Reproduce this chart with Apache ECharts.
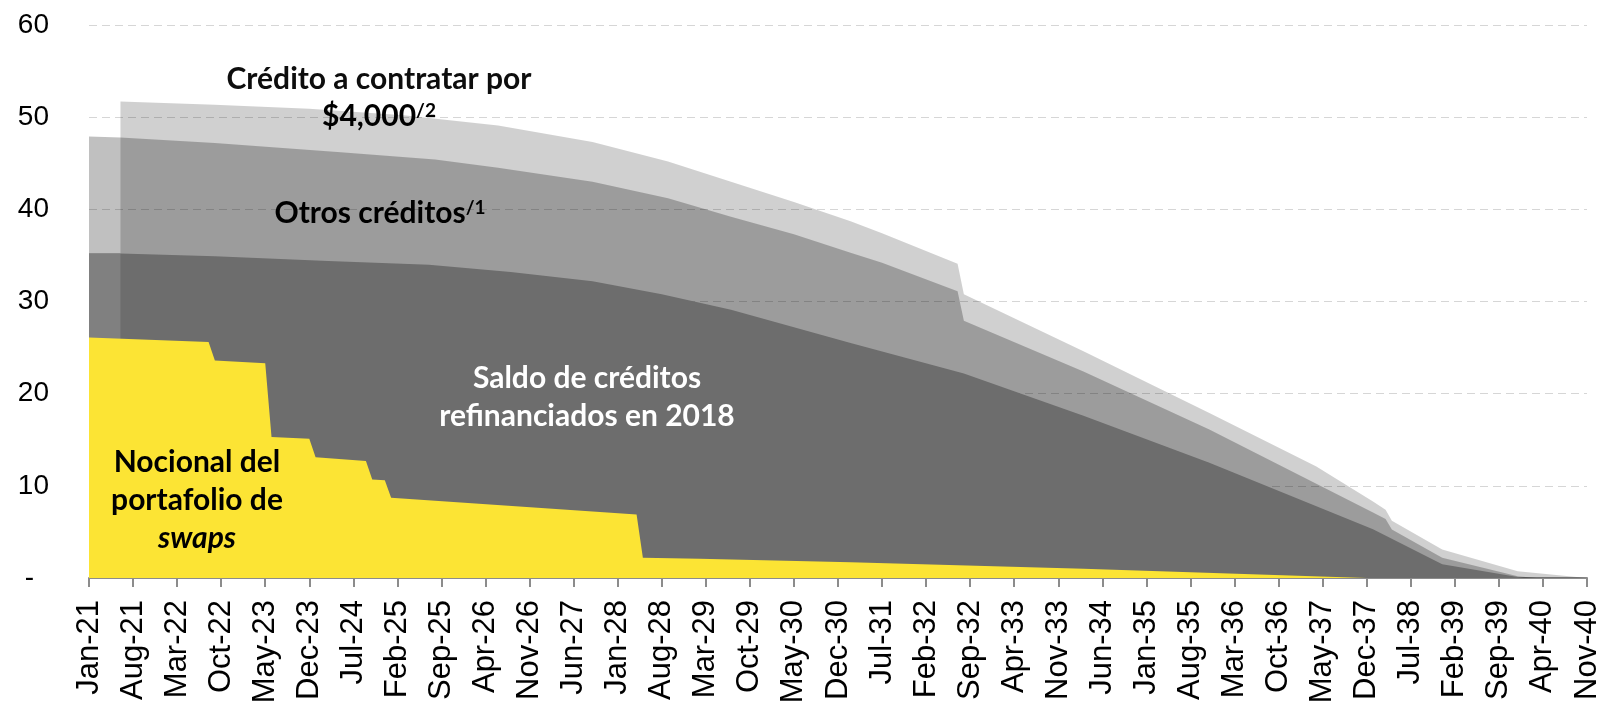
<!DOCTYPE html>
<html>
<head>
<meta charset="UTF-8">
<title>Saldo de créditos</title>
<script src="https://cdn.jsdelivr.net/npm/echarts@6/dist/echarts.min.js"></script>
<style>
html, body { margin: 0; padding: 0; background: #fff; }
#container { width: 1600px; height: 702px; }
</style>
</head>
<body>
<div id="container"></div>
<script type="text/javascript">
// etiquetas del eje x, una cada 7 meses a partir de ene-21
var tickLabels = ['Jan-21', 'Aug-21', 'Mar-22', 'Oct-22', 'May-23', 'Dec-23', 'Jul-24', 'Feb-25',
	'Sep-25', 'Apr-26', 'Nov-26', 'Jun-27', 'Jan-28', 'Aug-28', 'Mar-29', 'Oct-29', 'May-30',
	'Dec-30', 'Jul-31', 'Feb-32', 'Sep-32', 'Apr-33', 'Nov-33', 'Jun-34', 'Jan-35', 'Aug-35',
	'Mar-36', 'Oct-36', 'May-37', 'Dec-37', 'Jul-38', 'Feb-39', 'Sep-39', 'Apr-40', 'Nov-40'];
var yTicks = [0, 10, 20, 30, 40, 50, 60];

// [meses desde ene-21, saldo acumulado]
var creditoContratar = [[5, 51.7], [20, 51.35], [35, 50.9], [50, 50.2], [65, 49.1], [80, 47.3],
	[92, 45.2], [102, 43.0], [112, 40.8], [121, 38.7], [126, 37.4], [138, 34.1], [139, 30.8],
	[158, 24.6], [178, 17.9], [195, 12.1], [204, 8.3], [206, 7.4], [207, 6.2], [215, 3.1],
	[227, 0.74], [238, 0]];
var otrosCreditos = [[0, 47.9], [5, 47.8], [20, 47.2], [40, 46.2], [55, 45.4], [65, 44.5],
	[80, 43.0], [92, 41.2], [102, 39.2], [112, 37.3], [121, 35.3], [126, 34.2], [138, 31.1],
	[139, 27.9], [158, 22.4], [178, 16.1], [204, 7.1], [206, 6.4], [207, 5.25], [215, 2.2],
	[227, 0.2], [230, 0]];
var saldoRefinanciados = [[0, 35.2], [5, 35.2], [20, 34.9], [38, 34.4], [54, 34.0], [67, 33.2],
	[80, 32.2], [91, 30.8], [102, 29.1], [121, 25.5], [139, 22.2], [158, 17.6], [178, 12.5],
	[204, 5.3], [215, 1.5], [227, 0.1], [228, 0]];
var nocionalSwaps = [[0, 26.1], [19, 25.6], [20, 23.6], [28, 23.3], [29, 15.3], [35, 15.1],
	[36, 13.1], [44, 12.7], [45, 10.7], [47, 10.6], [48, 8.7], [87, 6.9], [88, 2.2], [97, 2.08],
	[121, 1.7], [158, 1.0], [203, 0]];
var mesesIniciales = 5; // tramo antes del credito a contratar

function tramoInicial(data) {
	return data.filter(function(p) { return p[0] <= mesesIniciales; });
}

function area(name, data, color) {
	return {
		name : name,
		type : 'line',
		data : data,
		showSymbol : false,
		silent : true,
		lineStyle : { width : 0, opacity : 0 },
		areaStyle : { color : color, opacity : 1 }
	};
}

var dom = document.getElementById("container");
var myChart = echarts.init(dom);

var labelFont = 'Lato, "Open Sans", sans-serif';
var axisFont = '"Liberation Sans", Arial, sans-serif';
var ink = '#0d0d0d';

var option = {
	animation : false,
	backgroundColor : '#fff',
	grid : { left : 89, right : 13, top : 25, bottom : 124, outerBoundsMode : 'none', containLabel : false },
	xAxis : {
		type : 'value',
		min : 0,
		max : (tickLabels.length - 1) * 7,
		interval : 7,
		axisLine : { lineStyle : { color : '#8c8c8c', width : 2 } },
		axisTick : { show : true, length : 9, lineStyle : { color : '#8c8c8c', width : 2 } },
		splitLine : { show : false },
		axisLabel : {
			rotate : 90,
			margin : 22,
			fontSize : 31,
			fontFamily : axisFont,
			color : '#000',
			showMaxLabel : true,
			hideOverlap : false,
			formatter : function(v) { return tickLabels[Math.round(v / 7)]; }
		}
	},
	yAxis : {
		type : 'value',
		min : yTicks[0],
		max : yTicks[yTicks.length - 1],
		interval : yTicks[1] - yTicks[0],
		axisLine : { show : false },
		axisTick : { show : false },
		splitLine : { lineStyle : { color : '#d6d6d6', width : 1, type : [8, 5] } },
		axisLabel : {
			margin : 40,
			fontSize : 28,
			fontFamily : axisFont,
			color : '#000',
			formatter : function(v) { return v === 0 ? '{d|-}' : v; },
			rich : { d : { fontSize : 28, fontFamily : axisFont, color : '#000', padding : [0, 15, 0, 0] } }
		}
	},
	series : [
		area('Crédito a contratar', creditoContratar, 'rgba(0,0,0,0.184)'),
		area('Otros créditos', otrosCreditos, 'rgba(0,0,0,0.247)'),
		area('Saldo de créditos refinanciados en 2018', saldoRefinanciados, '#6d6d6d'),
		area('Saldo inicial', tramoInicial(saldoRefinanciados), '#808080'),
		area('Nocional del portafolio de swaps', nocionalSwaps, '#fce434')
	],
	graphic : [
		{ type : 'text', z : 100, x : 379, y : 79, style : { text : 'Crédito a contratar por',
			font : 'bold 30px ' + labelFont, fill : ink, align : 'center', verticalAlign : 'middle' } },
		{ type : 'text', z : 100, x : 379, y : 116, style : { text : '{a|$4,000}{s|/2}',
			align : 'center', verticalAlign : 'middle',
			rich : {
				a : { fontSize : 30, fontWeight : 'bold', fontFamily : labelFont, color : ink },
				s : { fontSize : 19, fontWeight : 'bold', fontFamily : labelFont, color : ink, verticalAlign : 'top' }
			} } },
		{ type : 'text', z : 100, x : 380, y : 213, style : { text : '{a|Otros créditos}{s|/1}',
			align : 'center', verticalAlign : 'middle',
			rich : {
				a : { fontSize : 30, fontWeight : 'bold', fontFamily : labelFont, color : ink },
				s : { fontSize : 19, fontWeight : 'bold', fontFamily : labelFont, color : ink, verticalAlign : 'top' }
			} } },
		{ type : 'text', z : 100, x : 587, y : 397, style : { text : 'Saldo de créditos\nrefinanciados en 2018',
			font : 'bold 30px ' + labelFont, fill : '#fff', align : 'center', verticalAlign : 'middle', lineHeight : 38 } },
		{ type : 'text', z : 100, x : 197, y : 500, style : { text : '{a|Nocional del}\n{a|portafolio de}\n{i|swaps}',
			align : 'center', verticalAlign : 'middle',
			rich : {
				a : { fontSize : 30, fontWeight : 'bold', fontFamily : labelFont, color : ink, lineHeight : 38 },
				i : { fontSize : 30, fontWeight : 'bold', fontStyle : 'italic', fontFamily : labelFont, color : ink, lineHeight : 38 }
			} } }
	]
};

if (option && typeof option === "object") {
	myChart.setOption(option, true);
}
</script>
</body>
</html>
